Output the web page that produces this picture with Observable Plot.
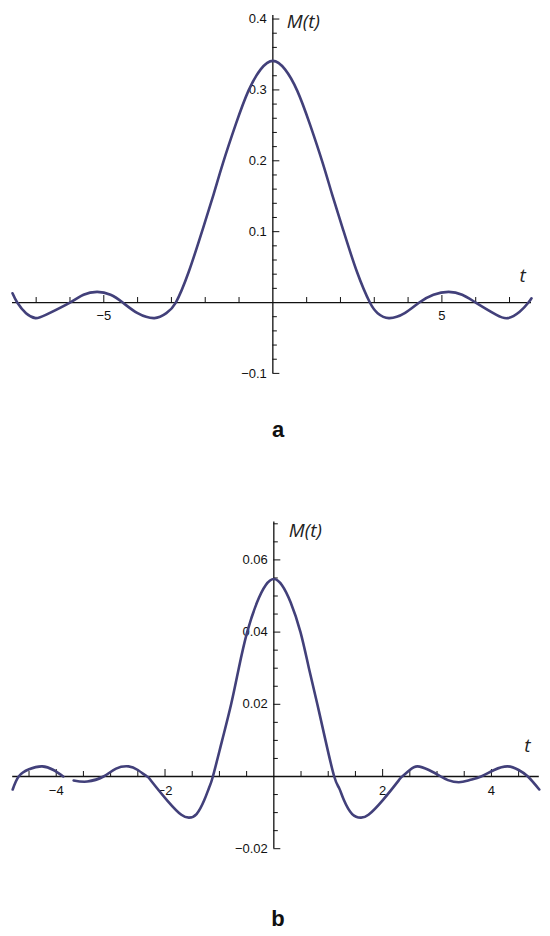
<!DOCTYPE html>
<html>
<head>
<meta charset="utf-8">
<script src="https://cdn.jsdelivr.net/npm/d3@7"></script>
<script src="https://cdn.jsdelivr.net/npm/@observablehq/plot@0.6"></script>
<style>
  html, body { margin: 0; padding: 0; background: #fff; overflow: hidden; }
  #page { position: relative; width: 550px; height: 936px; }
  .panel { position: absolute; left: 0; }
  .cap { position: absolute; left: 0; width: 556px; text-align: center;
         font-family: "Liberation Sans", Arial, sans-serif; font-weight: bold;
         font-size: 22px; line-height: 22px; color: #111; }
</style>
</head>
<body>
<div id="page">
  <div class="panel" id="pa" style="top:0px"></div>
  <div class="cap" style="top:419px">a</div>
  <div class="panel" id="pb" style="top:464px"></div>
  <div class="cap" style="top:908px">b</div>
</div>
<script>
// ---- Panel a data (t, M(t)) ----
const tA = [-7.7, -7.56, -7.3, -7.02, -6.7, -6.0, -5.6, -5.2, -4.8, -4.44, -4.0, -3.5, -3.15, -2.87, -2.49, -2.07, -1.75, -1.48, -1.1, -0.72, -0.36, 0,
            0.36, 0.72, 1.1, 1.48, 1.75, 2.07, 2.49, 2.87, 3.1, 3.43, 3.9, 4.33, 4.75, 5.2, 5.6, 6.0, 6.6, 6.95, 7.3, 7.56, 7.65];
const mA = [0.013, 0, -0.015, -0.022, -0.017, 0, 0.011, 0.015, 0.011, 0, -0.015, -0.022, -0.015, 0, 0.043, 0.104, 0.153, 0.196, 0.251, 0.299, 0.329, 0.341,
            0.329, 0.299, 0.251, 0.196, 0.153, 0.104, 0.043, 0, -0.015, -0.022, -0.015, 0, 0.011, 0.015, 0.011, 0, -0.017, -0.022, -0.013, 0, 0.006];
const xMinorA = [-7, -6, -4, -3, -2, -1, 1, 2, 3, 4, 6, 7];
const xMajorA = [-5, 5];
const yMinorA = [-0.08, -0.06, -0.04, -0.02, 0.02, 0.04, 0.06, 0.08, 0.12, 0.14, 0.16, 0.18, 0.22, 0.24, 0.26, 0.28, 0.32, 0.34, 0.36, 0.38];
const yMajorA = [-0.1, 0.1, 0.2, 0.3, 0.4];

// ---- Panel b data ----
const tB = [-4.8, -4.69, -4.5, -4.26, -4.05, -3.87, -3.78, -3.68, -3.43, -3.13, -2.9, -2.67, -2.5, -2.33, -2.26, -1.95, -1.7, -1.56, -1.42, -1.28, -1.19, -1.12, -0.95, -0.785, -0.644, -0.49, -0.31, -0.15, 0,
            0.15, 0.31, 0.49, 0.645, 0.8, 0.95, 1.11, 1.2, 1.29, 1.44, 1.6, 1.74, 2.0, 2.3, 2.36, 2.5, 2.64, 2.85, 3.07, 3.2, 3.4, 3.6, 3.81, 4.05, 4.3, 4.5, 4.67, 4.88];
const mB = [-0.0036, 0, 0.002, 0.0028, 0.0018, 0, null, -0.0011, -0.0014, 0, 0.0022, 0.0028, 0.0018, 0, -0.0011, -0.0068, -0.0106, -0.0114, -0.0104, -0.0066, -0.0031, 0, 0.010, 0.020, 0.030, 0.040, 0.0482, 0.0530, 0.0547,
            0.0530, 0.0482, 0.040, 0.030, 0.020, 0.010, 0, -0.0032, -0.0066, -0.0104, -0.0114, -0.0106, -0.0066, -0.0010, 0, 0.0018, 0.0028, 0.0018, 0, -0.001, -0.0016, -0.001, 0, 0.0018, 0.0028, 0.0018, 0, -0.0036];
const xMinorB = [-4.5, -3.5, -3, -2.5, -1.5, -1, -0.5, 0.5, 1, 1.5, 2.5, 3, 3.5, 4.5];
const xMajorB = [-4, -2, 2, 4];
const yMinorB = [-0.015, -0.01, -0.005, 0.005, 0.01, 0.015, 0.025, 0.03, 0.035, 0.045, 0.05, 0.055, 0.065, 0.07];
const yMajorB = [-0.02, 0.02, 0.04, 0.06];

const CURVE = "#42407a";
const TICKFONT = "'Liberation Sans', Arial, sans-serif";
const fmt = d => String(d).replace("-", "\u2212");

function panel(cfg) {
  const data = cfg.t.map((t, i) => ({t, m: cfg.m[i]}));
  const [y0, y1] = cfg.yDomain;
  const [x0, x1] = cfg.xDomain;
  return Plot.plot({
    width: 550,
    height: 400,
    marginLeft: cfg.ml, marginRight: cfg.mr, marginTop: cfg.mt, marginBottom: cfg.mb,
    x: {domain: cfg.xDomain, axis: null},
    y: {domain: cfg.yDomain, axis: null},
    style: {background: "transparent", overflow: "visible"},
    marks: [
      // axes lines
      Plot.ruleY([0], {y: d => d, stroke: "#111", strokeWidth: 1.3}),
      Plot.ruleX([0], {x: d => d, y1: () => y0, y2: () => y1, stroke: "#111", strokeWidth: 1.3}),
      // x ticks (pointing up)
      Plot.ruleX(cfg.xMinor, {x: d => d, y1: () => 0, y2: () => 0, insetTop: -5, stroke: "#111", strokeWidth: 1}),
      Plot.ruleX(cfg.xMajor, {x: d => d, y1: () => 0, y2: () => 0, insetTop: -7, stroke: "#111", strokeWidth: 1}),
      // y ticks (pointing right)
      Plot.ruleY(cfg.yMinor, {y: d => d, x1: () => 0, x2: () => 0, insetRight: -4.5, stroke: "#111", strokeWidth: 1}),
      Plot.ruleY(cfg.yMajor, {y: d => d, x1: () => 0, x2: () => 0, insetRight: -7, stroke: "#111", strokeWidth: 1}),
      // tick labels
      Plot.text(cfg.xMajor, {x: d => d, y: () => 0, text: fmt, dy: cfg.xLabelDy, fontSize: 13, fontFamily: TICKFONT, fill: "#111"}),
      Plot.text(cfg.yMajor, {x: () => 0, y: d => d, text: fmt, textAnchor: "end", dx: -6, fontSize: 13, fontFamily: TICKFONT, fill: "#111"}),
      // curve
      Plot.line(data, {x: "t", y: "m", curve: "natural", stroke: CURVE, strokeWidth: 2.6}),
      // axis titles
      Plot.text(["M(t)"], {x: () => 0, y: () => y1, text: d => d, textAnchor: "start", lineAnchor: "bottom",
        dx: cfg.mDx, dy: cfg.mDy, fontSize: 19, fontStyle: "italic", fontFamily: "'Open Sans', sans-serif", fill: "#222"}),
      Plot.text(["t"], {x: () => x1, y: () => 0, text: d => d, textAnchor: "middle", lineAnchor: "bottom",
        dx: cfg.tDx, dy: cfg.tDy, fontSize: 19, fontStyle: "italic", fontFamily: "'Open Sans', sans-serif", fill: "#222"})
    ]
  });
}

document.getElementById("pa").appendChild(panel({
  t: tA, m: mA,
  xDomain: [-7.7, 7.65], yDomain: [-0.1, 0.405],
  ml: 12, mr: 19, mt: 15, mb: 27.1,
  xMinor: xMinorA, xMajor: xMajorA, yMinor: yMinorA, yMajor: yMajorA,
  xLabelDy: 13, mDx: 14, mDy: 12.5, tDx: -9, tDy: -21
}));

document.getElementById("pb").appendChild(panel({
  t: tB, m: mB,
  xDomain: [-4.8, 4.88], yDomain: [-0.02, 0.0705],
  ml: 12.2, mr: 11.2, mt: 57.5, mb: 15.8,
  xMinor: xMinorB, xMajor: xMajorB, yMinor: yMinorB, yMajor: yMajorB,
  xLabelDy: 14, mDx: 15, mDy: 14.5, tDx: -12, tDy: -25
}));
</script>
</body>
</html>
